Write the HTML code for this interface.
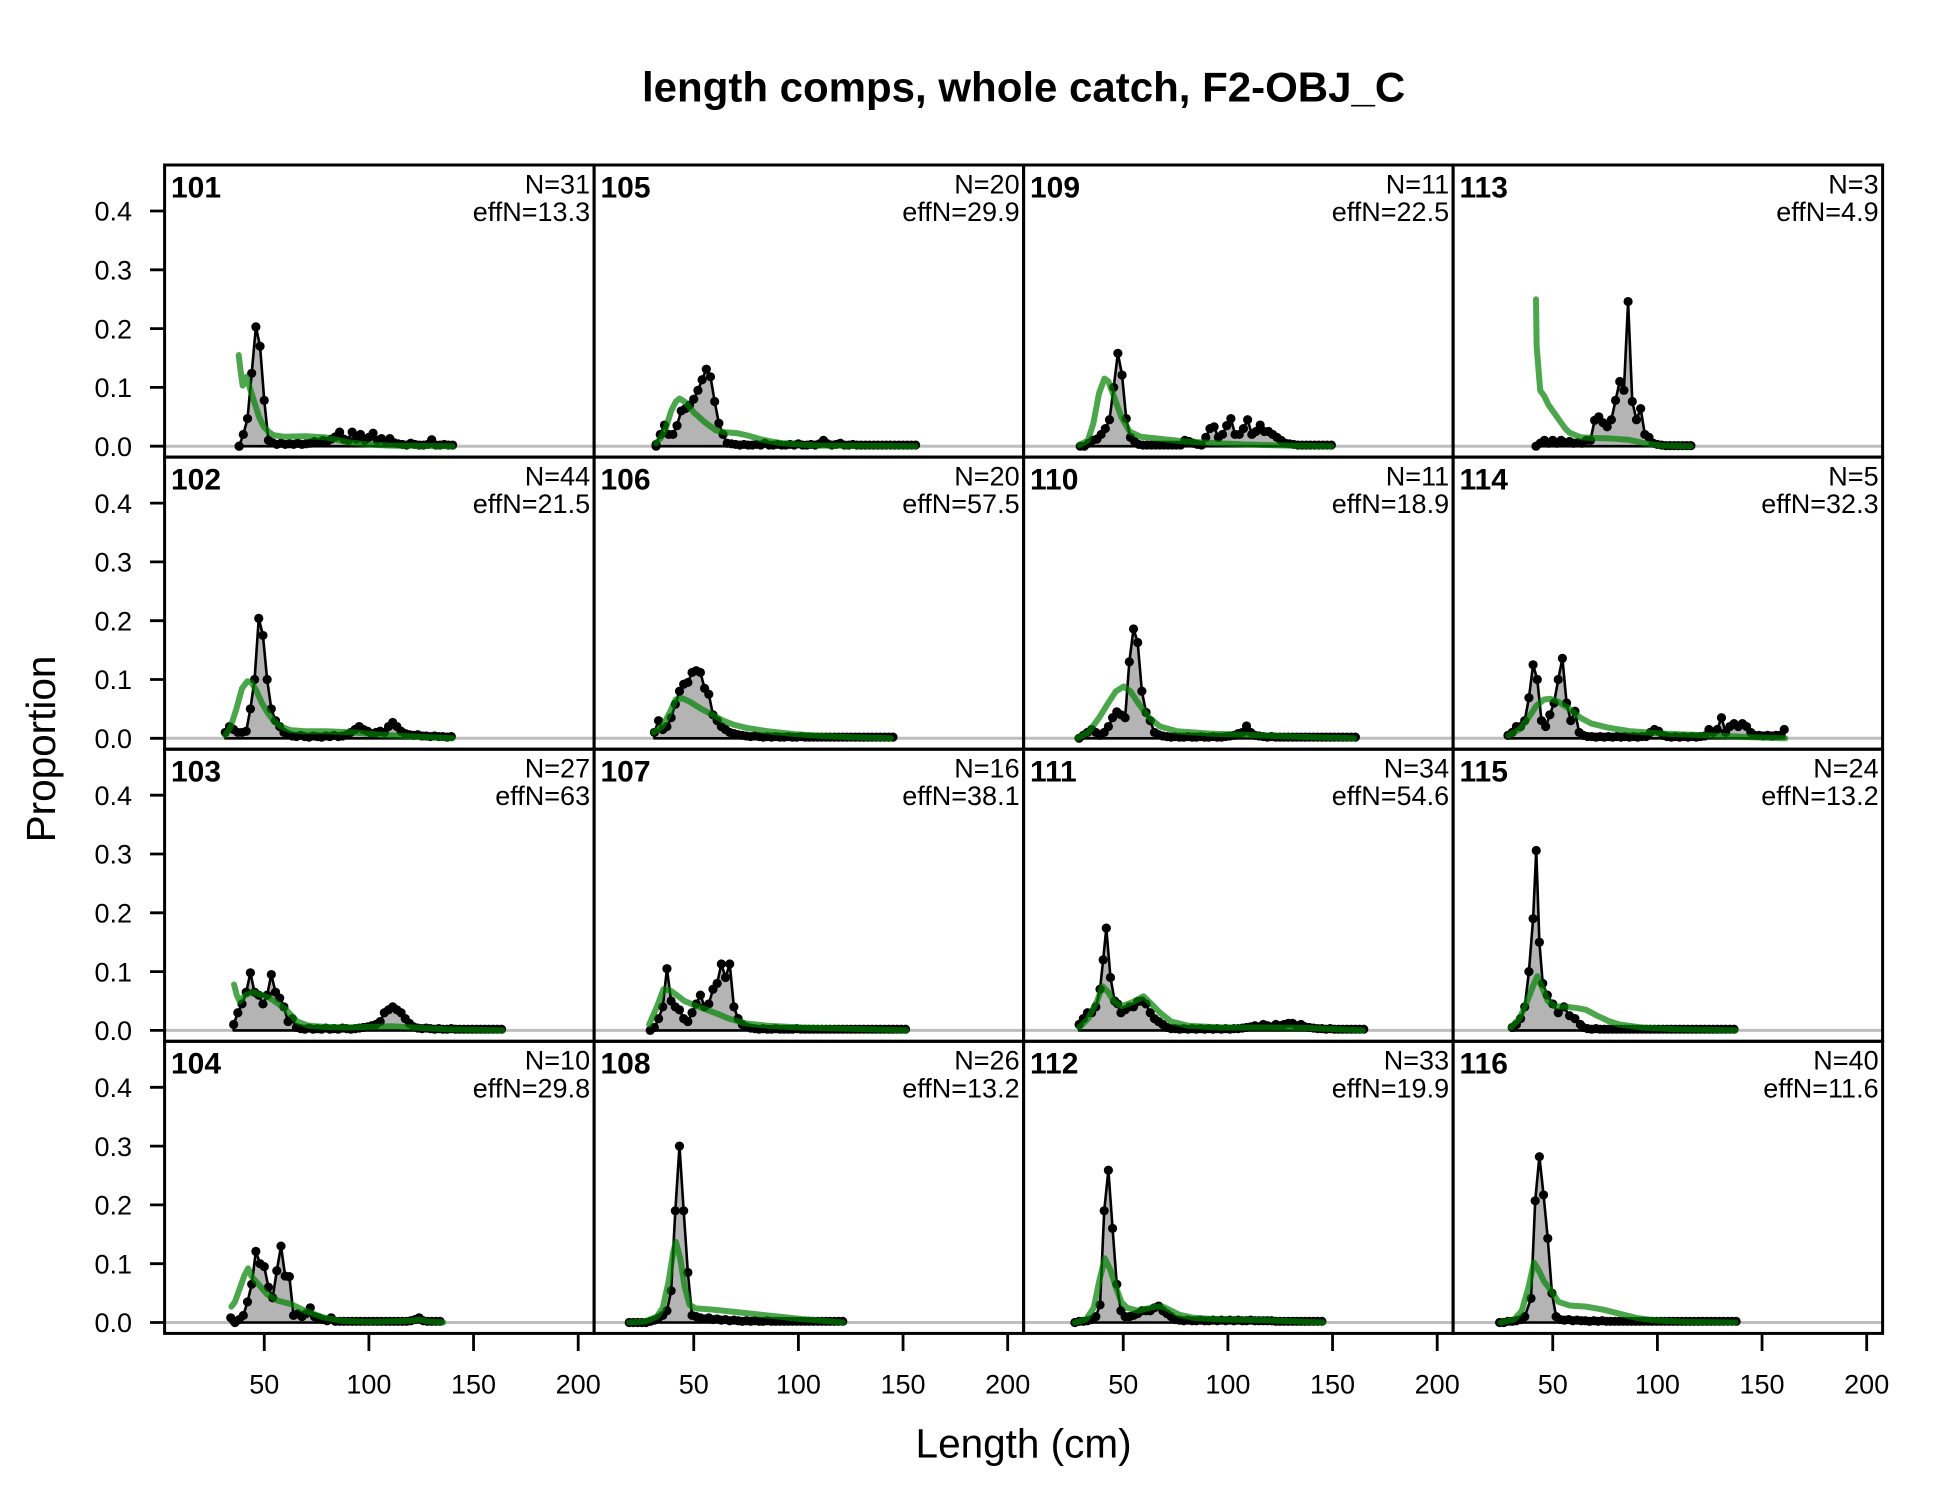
<!DOCTYPE html>
<html><head><meta charset="utf-8"><style>
html,body{margin:0;padding:0;background:#fff}
svg{display:block;font-family:"Liberation Sans",Arial,sans-serif}
.o{fill:#b4b4b4;stroke:#000;stroke-width:2.6px;vector-effect:non-scaling-stroke;stroke-linejoin:round}
.m{fill:none;stroke:none;marker-start:url(#d);marker-mid:url(#d);marker-end:url(#d)}
.e{fill:none;stroke:rgba(0,128,0,0.7);stroke-width:6px;vector-effect:non-scaling-stroke;stroke-linejoin:round;stroke-linecap:round}
.bl{stroke:#bebebe;stroke-width:3}
.pn{font-weight:bold;font-size:30px}
.nt{font-size:27px;text-anchor:end}
.tk{font-size:27px}
</style></head><body>
<svg width="1950" height="1500" viewBox="0 0 1950 1500" xmlns="http://www.w3.org/2000/svg">
<defs>
<marker id="d" markerUnits="userSpaceOnUse" markerWidth="5" markerHeight="0.018" refX="2.5" refY="0.009" style="overflow:visible"><ellipse cx="2.5" cy="0.009" rx="2.2" ry="0.0078" fill="#000"/></marker>
</defs>
<rect width="1950" height="1500" fill="#fff"/>
<text x="1023.6" y="101.7" text-anchor="middle" font-weight="bold" font-size="42">length comps, whole catch, F2-OBJ_C</text>
<text x="1023.6" y="1457.7" text-anchor="middle" font-size="40.5">Length (cm)</text>
<text transform="translate(55,749) rotate(-90)" text-anchor="middle" font-size="40.5">Proportion</text>

<g class="bl">
<line x1="164.6" x2="1882.6" y1="446.2" y2="446.2"/>
<line x1="164.6" x2="1882.6" y1="738.3" y2="738.3"/>
<line x1="164.6" x2="1882.6" y1="1030.4" y2="1030.4"/>
<line x1="164.6" x2="1882.6" y1="1322.5" y2="1322.5"/>
</g>

<!-- ROW 1 -->
<g transform="translate(159.6,446.2) scale(2.093,-588)">
<path class="o" d="M38,0L38,0 40,.02 42,.047 44,.124 46,.203 48,.17 50,.078 52,.01 54,.006 56,.003 58,.005 60,.003 62,.004 64,.003 66,.005 68,.003 70,.004 72,.005 74,.008 76,.006 78,.01 80,.008 82,.012 84,.016 86,.024 88,.012 90,.01 92,.024 94,.012 96,.02 98,.01 100,.015 102,.022 104,.01 106,.013 108,.008 110,.013 112,.006 114,.004 116,.003 118,.002 120,.005 122,.003 124,.002 126,.002 128,.003 130,.011 132,.002 134,.002 136,.003 138,.002 140,.002 140,0Z"/>
<path class="m" d="M38,0L38,0 40,.02 42,.047 44,.124 46,.203 48,.17 50,.078 52,.01 54,.006 56,.003 58,.005 60,.003 62,.004 64,.003 66,.005 68,.003 70,.004 72,.005 74,.008 76,.006 78,.01 80,.008 82,.012 84,.016 86,.024 88,.012 90,.01 92,.024 94,.012 96,.02 98,.01 100,.015 102,.022 104,.01 106,.013 108,.008 110,.013 112,.006 114,.004 116,.003 118,.002 120,.005 122,.003 124,.002 126,.002 128,.003 130,.011 132,.002 134,.002 136,.003 138,.002 140,.002"/>
<polyline class="e" points="37.8,.155 38.8,.125 39.7,.103 40.5,.11 41.5,.118 43,.1 45,.078 47.5,.05 49.8,.033 52,.025 54.3,.019 59.6,.016 69.6,.017 79.4,.015 89.5,.007 99.4,.003 110,.001 140,0"/>
</g>
<g transform="translate(589.1,446.2) scale(2.093,-588)">
<path class="o" d="M32,0L32,.003 34,.02 36,.036 38,.02 40,.02 42,.035 44,.06 46,.064 48,.07 50,.08 52,.095 54,.113 56,.131 58,.118 60,.076 62,.039 64,.02 66,.005 68,.004 70,.003 72,.002 74,.003 76,.002 78,.002 80,.003 82,.002 84,.005 86,.002 88,.002 90,.003 92,.002 94,.002 96,.003 98,.002 100,.004 102,.002 104,.002 106,.003 108,.002 110,.004 112,.01 114,.004 116,.002 118,.003 120,.005 122,.002 124,.002 126,.003 128,.002 130,.002 132,.002 134,.002 136,.002 138,.002 140,.002 142,.002 144,.002 146,.002 148,.002 150,.002 152,.002 154,.002 156,.002 156,0Z"/>
<path class="m" d="M32,0L32,.003 34,.02 36,.036 38,.02 40,.02 42,.035 44,.06 46,.064 48,.07 50,.08 52,.095 54,.113 56,.131 58,.118 60,.076 62,.039 64,.02 66,.005 68,.004 70,.003 72,.002 74,.003 76,.002 78,.002 80,.003 82,.002 84,.005 86,.002 88,.002 90,.003 92,.002 94,.002 96,.003 98,.002 100,.004 102,.002 104,.002 106,.003 108,.002 110,.004 112,.01 114,.004 116,.002 118,.003 120,.005 122,.002 124,.002 126,.003 128,.002 130,.002 132,.002 134,.002 136,.002 138,.002 140,.002 142,.002 144,.002 146,.002 148,.002 150,.002 152,.002 154,.002 156,.002"/>
<polyline class="e" points="32,.005 34.5,.015 36.6,.03 39.3,.061 41.5,.076 43.2,.081 45.9,.075 49.9,.058 55.2,.041 60.5,.027 64.5,.024 71,.022 76,.018 81.7,.012 87,.008 92.3,.005 100,.003 110,.001 156,0"/>
</g>
<g transform="translate(1017.4,446.2) scale(2.093,-588)">
<path class="o" d="M30,0L30,0 32,0 34,.005 36,.01 38,.012 40,.02 42,.03 44,.045 46,.1 48,.158 50,.121 52,.047 54,.015 56,.008 58,.003 60,.002 62,.002 64,.002 66,.002 68,.002 70,.002 72,.002 74,.002 76,.002 78,.002 80,.01 82,.008 84,.005 86,.003 88,.002 90,.015 92,.03 94,.033 96,.015 98,.02 100,.035 102,.047 104,.02 106,.02 108,.03 110,.045 112,.02 114,.025 116,.036 118,.025 120,.025 122,.02 124,.015 126,.01 128,.005 130,.004 132,.003 134,.002 136,.002 138,.002 140,.002 142,.002 144,.002 146,.002 148,.002 150,.002 150,0Z"/>
<path class="m" d="M30,0L32,0 34,.005 36,.01 38,.012 40,.02 42,.03 44,.045 46,.1 48,.158 50,.121 52,.047 54,.015 56,.008 58,.003 60,.002 62,.002 64,.002 66,.002 68,.002 70,.002 72,.002 74,.002 76,.002 78,.002 80,.01 82,.008 84,.005 86,.003 88,.002 90,.015 92,.03 94,.033 96,.015 98,.02 100,.035 102,.047 104,.02 106,.02 108,.03 110,.045 112,.02 114,.025 116,.036 118,.025 120,.025 122,.02 124,.015 126,.01 128,.005 130,.004 132,.003 134,.002 136,.002 138,.002 140,.002 142,.002 144,.002 146,.002 148,.002 150,.002"/>
<polyline class="e" points="29.7,.002 33.7,.01 36.3,.039 39,.09 41.6,.115 43.5,.11 45.6,.09 49.6,.05 53.6,.025 58.9,.016 69.5,.012 80.1,.008 96,.005 109,.003 130,.001 150,0"/>
</g>
<g transform="translate(1448.1,446.2) scale(2.093,-588)">
<path class="o" d="M42,0L42,0 44,.005 46,.01 48,.005 50,.01 52,.005 54,.01 56,.006 58,.008 60,.005 62,.006 64,.005 66,.01 68,.01 70,.044 72,.05 74,.04 76,.033 78,.045 80,.078 82,.11 84,.095 86,.246 88,.076 90,.045 92,.064 94,.02 96,.015 98,.005 100,.003 102,.002 104,.001 106,.001 108,.001 110,.001 112,.001 114,.001 116,.001 116,0Z"/>
<path class="m" d="M42,0L44,.005 46,.01 48,.005 50,.01 52,.005 54,.01 56,.006 58,.008 60,.005 62,.006 64,.005 66,.01 68,.01 70,.044 72,.05 74,.04 76,.033 78,.045 80,.078 82,.11 84,.095 86,.246 88,.076 90,.045 92,.064 94,.02 96,.015 98,.005 100,.003 102,.002 104,.001 106,.001 108,.001 110,.001 112,.001 114,.001 116,.001"/>
<polyline class="e" points="42,.25 42.3,.17 44,.095 46,.085 48,.07 50,.06 52,.05 54,.04 56,.03 58,.023 60,.02 62,.017 64,.015 70,.014 78,.013 86,.011 90,.008 94,.005 98,.003 102,.001 116,0"/>
</g>

<!-- ROW 2 -->
<g transform="translate(158.3,738.3) scale(2.093,-588)">
<path class="o" d="M32,0L32,.01 34,.02 36,.015 38,.01 40,.01 42,.012 44,.05 46,.1 48,.204 50,.175 52,.1 54,.05 56,.03 58,.02 60,.01 62,.006 64,.004 66,.003 68,.005 70,.003 72,.002 74,.004 76,.003 78,.002 80,.004 82,.003 84,.005 86,.003 88,.004 90,.006 92,.01 94,.015 96,.02 98,.015 100,.012 102,.008 104,.01 106,.012 108,.01 110,.02 112,.027 114,.02 116,.012 118,.008 120,.006 122,.005 124,.006 126,.004 128,.004 130,.003 132,.004 134,.003 136,.003 138,.002 140,.003 140,0Z"/>
<path class="m" d="M32,.01L34,.02 36,.015 38,.01 40,.01 42,.012 44,.05 46,.1 48,.204 50,.175 52,.1 54,.05 56,.03 58,.02 60,.01 62,.006 64,.004 66,.003 68,.005 70,.003 72,.002 74,.004 76,.003 78,.002 80,.004 82,.003 84,.005 86,.003 88,.004 90,.006 92,.01 94,.015 96,.02 98,.015 100,.012 102,.008 104,.01 106,.012 108,.01 110,.02 112,.027 114,.02 116,.012 118,.008 120,.006 122,.005 124,.006 126,.004 128,.004 130,.003 132,.004 134,.003 136,.003 138,.002 140,.003"/>
<polyline class="e" points="32,.005 34.6,.02 37.3,.05 40,.085 42.6,.097 44.5,.095 47,.08 49.5,.06 52,.045 55,.03 58.5,.02 63,.014 70,.012 80,.012 93,.01 106,.006 122,.003 140.5,0"/>
</g>
<g transform="translate(587.4,738.3) scale(2.093,-588)">
<path class="o" d="M32,0L32,.01 34,.03 36,.015 38,.02 40,.035 42,.058 44,.08 46,.092 48,.095 50,.112 52,.115 54,.112 56,.085 58,.075 60,.04 62,.03 64,.02 66,.015 68,.01 70,.008 72,.006 74,.005 76,.004 78,.003 80,.004 82,.003 84,.002 86,.003 88,.002 90,.003 92,.002 94,.002 96,.003 98,.002 100,.002 102,.003 104,.002 106,.002 108,.002 110,.002 112,.002 114,.002 116,.002 118,.002 120,.002 122,.002 124,.002 126,.002 128,.002 130,.002 132,.002 134,.002 136,.002 138,.002 140,.002 142,.002 144,.002 146,.002 146,0Z"/>
<path class="m" d="M32,.01L34,.03 36,.015 38,.02 40,.035 42,.058 44,.08 46,.092 48,.095 50,.112 52,.115 54,.112 56,.085 58,.075 60,.04 62,.03 64,.02 66,.015 68,.01 70,.008 72,.006 74,.005 76,.004 78,.003 80,.004 82,.003 84,.002 86,.003 88,.002 90,.003 92,.002 94,.002 96,.003 98,.002 100,.002 102,.003 104,.002 106,.002 108,.002 110,.002 112,.002 114,.002 116,.002 118,.002 120,.002 122,.002 124,.002 126,.002 128,.002 130,.002 132,.002 134,.002 136,.002 138,.002 140,.002 142,.002 144,.002 146,.002"/>
<polyline class="e" points="31.6,.01 35.8,.02 39.5,.045 42.2,.066 45.4,.068 49,.062 54.4,.05 59.7,.04 64.9,.03 70,.023 75.5,.018 86.1,.012 99.3,.007 112.6,.004 125,.002 145,0"/>
</g>
<g transform="translate(1016.3,738.3) scale(2.093,-588)">
<path class="o" d="M30,0L30,0 32,.005 34,.01 36,.015 38,.01 40,.005 42,.01 44,.02 46,.035 48,.045 50,.04 52,.035 54,.13 56,.186 58,.163 60,.08 62,.044 64,.03 66,.01 68,.006 70,.004 72,.003 74,.002 76,.003 78,.002 80,.002 82,.003 84,.002 86,.002 88,.003 90,.002 92,.002 94,.003 96,.002 98,.002 100,.003 102,.004 104,.005 106,.008 108,.01 110,.021 112,.01 114,.005 116,.004 118,.003 120,.002 122,.003 124,.002 126,.002 128,.002 130,.002 132,.002 134,.002 136,.002 138,.002 140,.002 142,.002 144,.002 146,.002 148,.002 150,.002 152,.002 154,.002 156,.002 158,.002 160,.002 162,.002 162,0Z"/>
<path class="m" d="M30,0L32,.005 34,.01 36,.015 38,.01 40,.005 42,.01 44,.02 46,.035 48,.045 50,.04 52,.035 54,.13 56,.186 58,.163 60,.08 62,.044 64,.03 66,.01 68,.006 70,.004 72,.003 74,.002 76,.003 78,.002 80,.002 82,.003 84,.002 86,.002 88,.003 90,.002 92,.002 94,.003 96,.002 98,.002 100,.003 102,.004 104,.005 106,.008 108,.01 110,.021 112,.01 114,.005 116,.004 118,.003 120,.002 122,.003 124,.002 126,.002 128,.002 130,.002 132,.002 134,.002 136,.002 138,.002 140,.002 142,.002 144,.002 146,.002 148,.002 150,.002 152,.002 154,.002 156,.002 158,.002 160,.002 162,.002"/>
<polyline class="e" points="29,0 34.4,.01 39.6,.035 43.9,.06 47.6,.08 51.3,.088 54.5,.08 58.2,.06 63.5,.035 68.7,.02 76.7,.012 92.5,.008 108.4,.006 124.3,.004 140,.002 161.4,0"/>
</g>
<g transform="translate(1445.2,738.3) scale(2.093,-588)">
<path class="o" d="M30,0L30,.005 32,.01 34,.02 36,.02 38,.03 40,.069 42,.125 44,.1 46,.03 48,.02 50,.04 52,.06 54,.1 56,.136 58,.06 60,.03 62,.046 64,.01 66,.005 68,.003 70,.003 72,.002 74,.003 76,.002 78,.003 80,.002 82,.003 84,.002 86,.003 88,.002 90,.003 92,.002 94,.003 96,.003 98,.01 100,.015 102,.012 104,.005 106,.003 108,.002 110,.003 112,.002 114,.003 116,.002 118,.003 120,.002 122,.003 124,.004 126,.015 128,.01 130,.015 132,.035 134,.01 136,.02 138,.025 140,.02 142,.025 144,.02 146,.01 148,.005 150,.005 152,.004 154,.005 156,.004 158,.005 160,.005 162,.015 162,0Z"/>
<path class="m" d="M30,.005L32,.01 34,.02 36,.02 38,.03 40,.069 42,.125 44,.1 46,.03 48,.02 50,.04 52,.06 54,.1 56,.136 58,.06 60,.03 62,.046 64,.01 66,.005 68,.003 70,.003 72,.002 74,.003 76,.002 78,.003 80,.002 82,.003 84,.002 86,.003 88,.002 90,.003 92,.002 94,.003 96,.003 98,.01 100,.015 102,.012 104,.005 106,.003 108,.002 110,.003 112,.002 114,.003 116,.002 118,.003 120,.002 122,.003 124,.004 126,.015 128,.01 130,.015 132,.035 134,.01 136,.02 138,.025 140,.02 142,.025 144,.02 146,.01 148,.005 150,.005 152,.004 154,.005 156,.004 158,.005 160,.005 162,.015"/>
<polyline class="e" points="30.2,.005 35.5,.015 39.8,.035 43.5,.055 47.2,.066 50.4,.067 54.1,.062 59.4,.05 64.6,.035 69.9,.025 77.9,.018 88.4,.012 104.3,.008 125.5,.005 145,.002 162.5,0"/>
</g>

<!-- ROW 3 -->
<g transform="translate(158.3,1030.4) scale(2.093,-588)">
<path class="o" d="M36,0L36,.01 38,.03 40,.045 42,.065 44,.098 46,.065 48,.06 50,.045 52,.06 54,.095 56,.065 58,.055 60,.04 62,.015 64,.02 66,.005 68,.003 70,.002 72,.004 74,.002 76,.003 78,.002 80,.004 82,.002 84,.003 86,.002 88,.004 90,.003 92,.002 94,.003 96,.004 98,.005 100,.006 102,.008 104,.01 106,.015 108,.03 110,.035 112,.04 114,.035 116,.03 118,.02 120,.012 122,.006 124,.004 126,.003 128,.004 130,.003 132,.002 134,.003 136,.002 138,.002 140,.003 142,.002 144,.002 146,.002 148,.002 150,.002 152,.002 154,.002 156,.002 158,.002 160,.002 162,.002 164,.002 164,0Z"/>
<path class="m" d="M36,.01L38,.03 40,.045 42,.065 44,.098 46,.065 48,.06 50,.045 52,.06 54,.095 56,.065 58,.055 60,.04 62,.015 64,.02 66,.005 68,.003 70,.002 72,.004 74,.002 76,.003 78,.002 80,.004 82,.002 84,.003 86,.002 88,.004 90,.003 92,.002 94,.003 96,.004 98,.005 100,.006 102,.008 104,.01 106,.015 108,.03 110,.035 112,.04 114,.035 116,.03 118,.02 120,.012 122,.006 124,.004 126,.003 128,.004 130,.003 132,.002 134,.003 136,.002 138,.002 140,.003 142,.002 144,.002 146,.002 148,.002 150,.002 152,.002 154,.002 156,.002 158,.002 160,.002 162,.002 164,.002"/>
<polyline class="e" points="36.2,.078 37.5,.06 38.9,.049 41.5,.06 45.2,.065 49.5,.06 53.2,.055 57.4,.045 61.1,.035 66.4,.015 71.7,.008 79.6,.006 90.2,.005 100.8,.006 111.4,.007 122,.005 137.8,.002 164.3,0"/>
</g>
<g transform="translate(587.4,1030.4) scale(2.093,-588)">
<path class="o" d="M30,0L30,0 32,.005 34,.02 36,.04 38,.105 40,.05 42,.04 44,.035 46,.02 48,.015 50,.03 52,.045 54,.06 56,.04 58,.045 60,.07 62,.08 64,.113 66,.09 68,.113 70,.04 72,.02 74,.01 76,.006 78,.004 80,.003 82,.002 84,.003 86,.002 88,.002 90,.003 92,.002 94,.002 96,.002 98,.002 100,.003 102,.002 104,.002 106,.002 108,.002 110,.002 112,.002 114,.002 116,.002 118,.002 120,.002 122,.002 124,.002 126,.002 128,.002 130,.002 132,.002 134,.002 136,.002 138,.002 140,.002 142,.002 144,.002 146,.002 148,.002 150,.002 152,.002 152,0Z"/>
<path class="m" d="M30,0L32,.005 34,.02 36,.04 38,.105 40,.05 42,.04 44,.035 46,.02 48,.015 50,.03 52,.045 54,.06 56,.04 58,.045 60,.07 62,.08 64,.113 66,.09 68,.113 70,.04 72,.02 74,.01 76,.006 78,.004 80,.003 82,.002 84,.003 86,.002 88,.002 90,.003 92,.002 94,.002 96,.002 98,.002 100,.003 102,.002 104,.002 106,.002 108,.002 110,.002 112,.002 114,.002 116,.002 118,.002 120,.002 122,.002 124,.002 126,.002 128,.002 130,.002 132,.002 134,.002 136,.002 138,.002 140,.002 142,.002 144,.002 146,.002 148,.002 150,.002 152,.002"/>
<polyline class="e" points="29.5,.01 33.2,.04 36.4,.07 39.5,.068 42.7,.06 46.4,.05 51.7,.042 57,.035 62.3,.028 67.6,.02 75.5,.012 86.1,.008 102,.005 123,.003 152.3,0"/>
</g>
<g transform="translate(1016.3,1030.4) scale(2.093,-588)">
<path class="o" d="M30,0L30,.01 32,.02 34,.03 36,.03 38,.04 40,.07 41.5,.12 43,.174 45,.09 47,.05 48.5,.045 50,.03 52,.035 54,.04 56,.04 58,.049 60,.05 62,.045 64,.03 66,.02 68,.015 70,.01 72,.005 74,.003 76,.003 78,.002 80,.003 82,.002 84,.003 86,.002 88,.003 90,.002 92,.003 94,.002 96,.003 98,.002 100,.003 102,.002 104,.003 106,.003 108,.004 110,.005 112,.006 114,.008 116,.006 118,.01 120,.008 122,.006 124,.01 126,.008 128,.01 130,.012 132,.012 134,.008 136,.01 138,.006 140,.005 142,.004 144,.003 146,.003 148,.002 150,.003 152,.002 154,.002 156,.002 158,.002 160,.002 162,.002 164,.002 166,.002 166,0Z"/>
<path class="m" d="M30,.01L32,.02 34,.03 36,.03 38,.04 40,.07 41.5,.12 43,.174 45,.09 47,.05 48.5,.045 50,.03 52,.035 54,.04 56,.04 58,.049 60,.05 62,.045 64,.03 66,.02 68,.015 70,.01 72,.005 74,.003 76,.003 78,.002 80,.003 82,.002 84,.003 86,.002 88,.003 90,.002 92,.003 94,.002 96,.003 98,.002 100,.003 102,.002 104,.003 106,.003 108,.004 110,.005 112,.006 114,.008 116,.006 118,.01 120,.008 122,.006 124,.01 126,.008 128,.01 130,.012 132,.012 134,.008 136,.01 138,.006 140,.005 142,.004 144,.003 146,.003 148,.002 150,.003 152,.002 154,.002 156,.002 158,.002 160,.002 162,.002 164,.002 166,.002"/>
<polyline class="e" points="30.1,.005 34.3,.02 38.6,.05 41.2,.075 43.9,.065 46.5,.05 50.2,.041 55.5,.048 60.8,.058 64.5,.045 68.7,.03 74,.015 82,.008 97.8,.005 119,.005 140.2,.004 165.6,0"/>
</g>
<g transform="translate(1445.2,1030.4) scale(2.093,-588)">
<path class="o" d="M32,0L32,.005 34,.01 36,.02 38,.04 40,.1 42,.19 43.5,.306 45,.15 46.6,.08 48.8,.06 51.4,.045 54,.03 56.7,.04 59.4,.025 62,.02 64.6,.01 66,.005 68,.003 70,.002 72,.003 74,.002 76,.002 78,.002 80,.002 82,.002 84,.002 86,.002 88,.002 90,.002 92,.002 94,.002 96,.002 98,.002 100,.002 102,.002 104,.002 106,.002 108,.002 110,.002 112,.002 114,.002 116,.002 118,.002 120,.002 122,.002 124,.002 126,.002 128,.002 130,.002 132,.002 134,.002 136,.002 138,.002 138,0Z"/>
<path class="m" d="M32,.005L34,.01 36,.02 38,.04 40,.1 42,.19 43.5,.306 45,.15 46.6,.08 48.8,.06 51.4,.045 54,.03 56.7,.04 59.4,.025 62,.02 64.6,.01 66,.005 68,.003 70,.002 72,.003 74,.002 76,.002 78,.002 80,.002 82,.002 84,.002 86,.002 88,.002 90,.002 92,.002 94,.002 96,.002 98,.002 100,.002 102,.002 104,.002 106,.002 108,.002 110,.002 112,.002 114,.002 116,.002 118,.002 120,.002 122,.002 124,.002 126,.002 128,.002 130,.002 132,.002 134,.002 136,.002 138,.002"/>
<polyline class="e" points="31.3,.005 35.5,.02 39.2,.05 41.9,.075 44,.092 46.1,.075 49,.05 52.5,.041 58,.04 63,.038 67.3,.035 72.6,.025 78,.016 83.2,.01 93.7,.005 110,.002 138.7,0"/>
</g>

<!-- ROW 4 -->
<g transform="translate(159.6,1322.5) scale(2.093,-588)">
<path class="o" d="M34,0L34,.008 36,0 38,.005 40,.012 42,.035 44,.065 46,.121 48,.1 50,.095 52,.06 54,.042 56,.088 58,.13 60,.079 62,.078 64,.012 66,.015 68,.01 70,.015 72,.025 74,.01 76,.008 78,.005 80,.003 82,.008 84,.002 86,.002 88,.002 90,.002 92,.002 94,.002 96,.002 98,.002 100,.002 102,.002 104,.002 106,.002 108,.002 110,.002 112,.002 114,.002 116,.002 118,.002 120,.003 122,.005 124,.008 126,.003 128,.002 130,.002 132,.002 134,.002 134,0Z"/>
<path class="m" d="M34,.008L36,0 38,.005 40,.012 42,.035 44,.065 46,.121 48,.1 50,.095 52,.06 54,.042 56,.088 58,.13 60,.079 62,.078 64,.012 66,.015 68,.01 70,.015 72,.025 74,.01 76,.008 78,.005 80,.003 82,.008 84,.002 86,.002 88,.002 90,.002 92,.002 94,.002 96,.002 98,.002 100,.002 102,.002 104,.002 106,.002 108,.002 110,.002 112,.002 114,.002 116,.002 118,.002 120,.003 122,.005 124,.008 126,.003 128,.002 130,.002 132,.002 134,.002"/>
<polyline class="e" points="34.3,.027 36,.035 38.5,.06 40.5,.08 42.3,.092 44,.078 47,.066 51.3,.048 56.6,.037 63,.031 69.4,.02 77.9,.009 86.4,.003 100,.001 120,.003 124,.005 128,.002 135.5,0"/>
</g>
<g transform="translate(587.4,1322.5) scale(2.093,-588)">
<path class="o" d="M20,0L20,0 22,0 24,0 26,0 28,0 30,.002 32,.004 34,.008 36,.012 38,.02 40,.054 42,.19 44,.3 46,.19 48,.085 50,.012 52,.01 54,.008 56,.006 58,.008 60,.005 62,.006 64,.004 66,.005 68,.003 70,.004 72,.003 74,.002 76,.003 78,.002 80,.003 82,.002 84,.002 86,.003 88,.002 90,.002 92,.002 94,.002 96,.002 98,.002 100,.002 102,.002 104,.002 106,.002 108,.002 110,.002 112,.002 114,.002 116,.002 118,.002 120,.002 122,.002 122,0Z"/>
<path class="m" d="M20,0L22,0 24,0 26,0 28,0 30,.002 32,.004 34,.008 36,.012 38,.02 40,.054 42,.19 44,.3 46,.19 48,.085 50,.012 52,.01 54,.008 56,.006 58,.008 60,.005 62,.006 64,.004 66,.005 68,.003 70,.004 72,.003 74,.002 76,.003 78,.002 80,.003 82,.002 84,.002 86,.003 88,.002 90,.002 92,.002 94,.002 96,.002 98,.002 100,.002 102,.002 104,.002 106,.002 108,.002 110,.002 112,.002 114,.002 116,.002 118,.002 120,.002 122,.002"/>
<polyline class="e" points="19.9,0 27.9,.002 33.2,.01 36,.025 38.8,.07 41,.12 42.3,.137 44.3,.11 46.5,.06 48.8,.03 51.7,.024 59.7,.022 70.2,.018 80.8,.014 91.4,.01 102,.006 112.6,.003 122.1,0"/>
</g>
<g transform="translate(1016.3,1322.5) scale(2.093,-588)">
<path class="o" d="M28,0L28,0 30,.002 32,.002 34,.003 36,.005 38,.01 40,.03 42,.19 44,.259 46,.16 48,.065 50,.02 52,.01 54,.01 56,.012 58,.015 60,.02 62,.02 64,.02 66,.025 68,.028 70,.02 72,.015 74,.01 76,.005 78,.004 80,.003 82,.004 84,.003 86,.003 88,.004 90,.003 92,.003 94,.004 96,.003 98,.004 100,.003 102,.004 104,.003 106,.004 108,.003 110,.003 112,.004 114,.003 116,.003 118,.003 120,.003 122,.003 124,.002 126,.002 128,.002 130,.002 132,.002 134,.002 136,.002 138,.002 140,.002 142,.002 144,.002 146,.002 146,0Z"/>
<path class="m" d="M28,0L30,.002 32,.002 34,.003 36,.005 38,.01 40,.03 42,.19 44,.259 46,.16 48,.065 50,.02 52,.01 54,.01 56,.012 58,.015 60,.02 62,.02 64,.02 66,.025 68,.028 70,.02 72,.015 74,.01 76,.005 78,.004 80,.003 82,.004 84,.003 86,.003 88,.004 90,.003 92,.003 94,.004 96,.003 98,.004 100,.003 102,.004 104,.003 106,.004 108,.003 110,.003 112,.004 114,.003 116,.003 118,.003 120,.003 122,.003 124,.002 126,.002 128,.002 130,.002 132,.002 134,.002 136,.002 138,.002 140,.002 142,.002 144,.002 146,.002"/>
<polyline class="e" points="28,0 33.3,.005 37,.025 39.6,.07 42.3,.109 44.9,.09 47.6,.06 50.2,.035 52.9,.025 58.2,.02 63,.024 66,.027 70,.027 74,.02 78,.013 84.6,.008 97.8,.005 119,.004 146.5,0"/>
</g>
<g transform="translate(1445.2,1322.5) scale(2.093,-588)">
<path class="o" d="M26,0L26,0 28,0 30,.002 32,.002 34,.003 36,.005 38,.01 41,.041 43,.207 45,.282 47,.217 49,.143 51,.05 53,.01 55,.005 57,.004 59,.005 61,.003 63,.004 65,.003 67,.003 69,.002 71,.003 73,.002 75,.003 77,.002 79,.002 81,.002 83,.002 85,.002 87,.002 89,.002 91,.002 93,.002 95,.002 97,.002 99,.002 101,.002 103,.002 105,.002 107,.002 109,.002 111,.002 113,.002 115,.002 117,.002 119,.002 121,.002 123,.002 125,.002 127,.002 129,.002 131,.002 133,.002 135,.002 137,.002 139,.002 139,0Z"/>
<path class="m" d="M26,0L28,0 30,.002 32,.002 34,.003 36,.005 38,.01 41,.041 43,.207 45,.282 47,.217 49,.143 51,.05 53,.01 55,.005 57,.004 59,.005 61,.003 63,.004 65,.003 67,.003 69,.002 71,.003 73,.002 75,.003 77,.002 79,.002 81,.002 83,.002 85,.002 87,.002 89,.002 91,.002 93,.002 95,.002 97,.002 99,.002 101,.002 103,.002 105,.002 107,.002 109,.002 111,.002 113,.002 115,.002 117,.002 119,.002 121,.002 123,.002 125,.002 127,.002 129,.002 131,.002 133,.002 135,.002 137,.002 139,.002"/>
<polyline class="e" points="26.5,0 32.9,.005 36.6,.02 39.8,.06 42.4,.102 44.5,.09 47.2,.07 50.4,.055 54.1,.035 59.4,.029 67.3,.027 75.3,.022 83.2,.015 91.2,.008 99.1,.004 115,.001 138.7,0"/>
</g>

<g fill="none" stroke="#000" stroke-width="3">
<rect x="164.6" y="165" width="429.5" height="292.1"/>
<rect x="164.6" y="457.1" width="429.5" height="292.1"/>
<rect x="164.6" y="749.2" width="429.5" height="292.1"/>
<rect x="164.6" y="1041.3" width="429.5" height="292.1"/>
<rect x="594.1" y="165" width="429.5" height="292.1"/>
<rect x="594.1" y="457.1" width="429.5" height="292.1"/>
<rect x="594.1" y="749.2" width="429.5" height="292.1"/>
<rect x="594.1" y="1041.3" width="429.5" height="292.1"/>
<rect x="1023.6" y="165" width="429.5" height="292.1"/>
<rect x="1023.6" y="457.1" width="429.5" height="292.1"/>
<rect x="1023.6" y="749.2" width="429.5" height="292.1"/>
<rect x="1023.6" y="1041.3" width="429.5" height="292.1"/>
<rect x="1453.1" y="165" width="429.5" height="292.1"/>
<rect x="1453.1" y="457.1" width="429.5" height="292.1"/>
<rect x="1453.1" y="749.2" width="429.5" height="292.1"/>
<rect x="1453.1" y="1041.3" width="429.5" height="292.1"/>
</g>

<path fill="none" stroke="#000" stroke-width="2.8" d="M150,446.2H164.6M150,387.4H164.6M150,328.6H164.6M150,269.8H164.6M150,211H164.6
M150,738.3H164.6M150,679.5H164.6M150,620.7H164.6M150,561.9H164.6M150,503.1H164.6
M150,1030.4H164.6M150,971.6H164.6M150,912.8H164.6M150,854H164.6M150,795.2H164.6
M150,1322.5H164.6M150,1263.7H164.6M150,1204.9H164.6M150,1146.1H164.6M150,1087.3H164.6
M264.25,1333.4V1351M368.9,1333.4V1351M473.55,1333.4V1351M578.2,1333.4V1351
M693.75,1333.4V1351M798.4,1333.4V1351M903.05,1333.4V1351M1007.7,1333.4V1351
M1123.25,1333.4V1351M1227.9,1333.4V1351M1332.55,1333.4V1351M1437.2,1333.4V1351
M1552.75,1333.4V1351M1657.4,1333.4V1351M1762.05,1333.4V1351M1866.7,1333.4V1351"/>

<g class="tk" text-anchor="end">
<text x="132" y="455.9">0.0</text><text x="132" y="397.1">0.1</text><text x="132" y="338.3">0.2</text><text x="132" y="279.5">0.3</text><text x="132" y="220.7">0.4</text>
<text x="132" y="748">0.0</text><text x="132" y="689.2">0.1</text><text x="132" y="630.4">0.2</text><text x="132" y="571.6">0.3</text><text x="132" y="512.8">0.4</text>
<text x="132" y="1040.1">0.0</text><text x="132" y="981.3">0.1</text><text x="132" y="922.5">0.2</text><text x="132" y="863.7">0.3</text><text x="132" y="804.9">0.4</text>
<text x="132" y="1332.2">0.0</text><text x="132" y="1273.4">0.1</text><text x="132" y="1214.6">0.2</text><text x="132" y="1155.8">0.3</text><text x="132" y="1097">0.4</text>
</g>
<g class="tk" text-anchor="middle">
<text x="264.25" y="1393.3">50</text><text x="368.9" y="1393.3">100</text><text x="473.55" y="1393.3">150</text><text x="578.2" y="1393.3">200</text>
<text x="693.75" y="1393.3">50</text><text x="798.4" y="1393.3">100</text><text x="903.05" y="1393.3">150</text><text x="1007.7" y="1393.3">200</text>
<text x="1123.25" y="1393.3">50</text><text x="1227.9" y="1393.3">100</text><text x="1332.55" y="1393.3">150</text><text x="1437.2" y="1393.3">200</text>
<text x="1552.75" y="1393.3">50</text><text x="1657.4" y="1393.3">100</text><text x="1762.05" y="1393.3">150</text><text x="1866.7" y="1393.3">200</text>
</g>

<g class="pn">
<text x="171" y="197.3">101</text><text x="171" y="489.4">102</text><text x="171" y="781.5">103</text><text x="171" y="1073.6">104</text>
<text x="600.5" y="197.3">105</text><text x="600.5" y="489.4">106</text><text x="600.5" y="781.5">107</text><text x="600.5" y="1073.6">108</text>
<text x="1030" y="197.3">109</text><text x="1030" y="489.4">110</text><text x="1030" y="781.5">111</text><text x="1030" y="1073.6">112</text>
<text x="1459.5" y="197.3">113</text><text x="1459.5" y="489.4">114</text><text x="1459.5" y="781.5">115</text><text x="1459.5" y="1073.6">116</text>
</g>
<g class="nt">
<text x="590.1" y="193.3">N=31</text><text x="590.1" y="221">effN=13.3</text>
<text x="590.1" y="485.4">N=44</text><text x="590.1" y="513.1">effN=21.5</text>
<text x="590.1" y="777.5">N=27</text><text x="590.1" y="805.2">effN=63</text>
<text x="590.1" y="1069.6">N=10</text><text x="590.1" y="1097.3">effN=29.8</text>
<text x="1019.6" y="193.3">N=20</text><text x="1019.6" y="221">effN=29.9</text>
<text x="1019.6" y="485.4">N=20</text><text x="1019.6" y="513.1">effN=57.5</text>
<text x="1019.6" y="777.5">N=16</text><text x="1019.6" y="805.2">effN=38.1</text>
<text x="1019.6" y="1069.6">N=26</text><text x="1019.6" y="1097.3">effN=13.2</text>
<text x="1449.1" y="193.3">N=11</text><text x="1449.1" y="221">effN=22.5</text>
<text x="1449.1" y="485.4">N=11</text><text x="1449.1" y="513.1">effN=18.9</text>
<text x="1449.1" y="777.5">N=34</text><text x="1449.1" y="805.2">effN=54.6</text>
<text x="1449.1" y="1069.6">N=33</text><text x="1449.1" y="1097.3">effN=19.9</text>
<text x="1878.6" y="193.3">N=3</text><text x="1878.6" y="221">effN=4.9</text>
<text x="1878.6" y="485.4">N=5</text><text x="1878.6" y="513.1">effN=32.3</text>
<text x="1878.6" y="777.5">N=24</text><text x="1878.6" y="805.2">effN=13.2</text>
<text x="1878.6" y="1069.6">N=40</text><text x="1878.6" y="1097.3">effN=11.6</text>
</g>
</svg>
</body></html>
